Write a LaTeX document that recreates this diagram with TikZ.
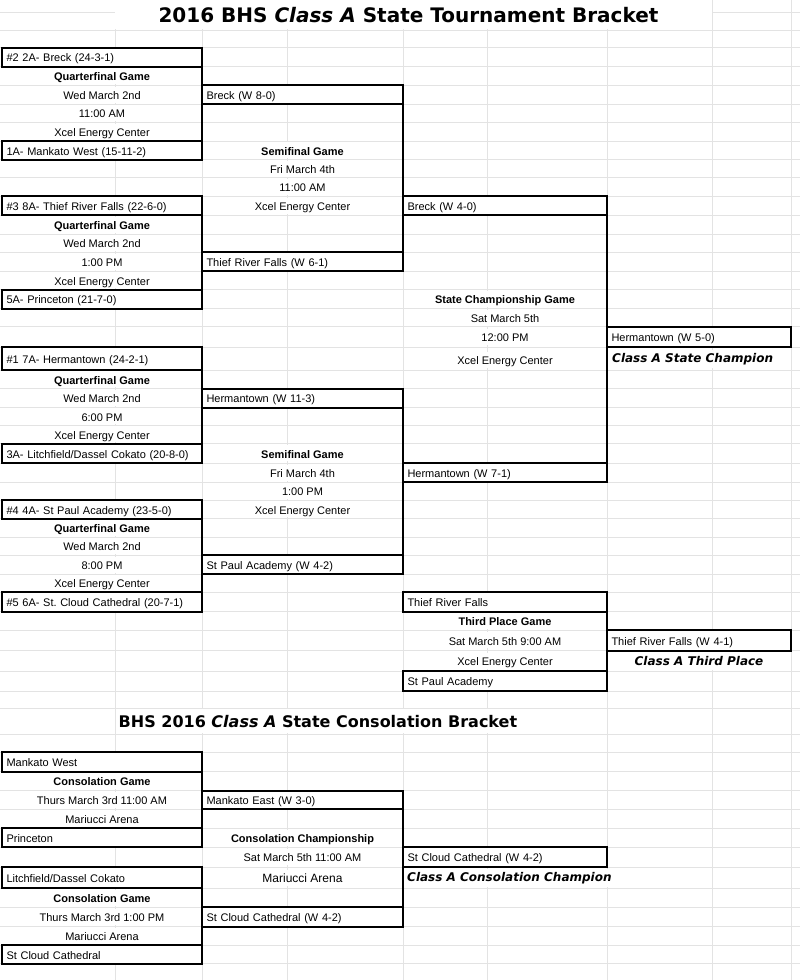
\documentclass[tikz,border=0pt]{standalone}
\usepackage{fontspec}
\setmainfont{Liberation Sans}
\newfontfamily\comicfont{DejaVu Sans}[BoldFont={DejaVu Sans Bold},ItalicFont={DejaVu Sans Oblique},BoldItalicFont={DejaVu Sans Bold Oblique}]
\newcommand\cellfont{\fontsize{11}{13}\selectfont}
\frenchspacing
\definecolor{gridgray}{HTML}{E3E3E3}
\tikzset{
  gridline/.style={draw=gridgray, line width=0.8pt},
  cell/.style={font=\cellfont, inner sep=0pt, outer sep=0pt, text height=9.5pt, text depth=0pt},
  box/.style={cell, draw=black, line width=2pt, fill=white, anchor=north west,
    inner xsep=4.5pt, minimum height=19, align=left},
  seedbox/.style={box, minimum width=200, text width=191},
  winbox/.style={box, minimum width=201, text width=192},
  semibox/.style={box, minimum width=204, text width=195},
  champbox/.style={box, minimum width=184, text width=175},
  info/.style={cell, fill=white, minimum height=16},
  infoab/.style={info, minimum width=199},
  infocd/.style={info, minimum width=200},
  infoef/.style={info, minimum width=203},
  game/.style={font=\cellfont\bfseries},
  headline/.style={font=\comicfont\bfseries\fontsize{20}{24}\selectfont, inner sep=0pt},
  subhead/.style={font=\comicfont\bfseries\fontsize{16}{19}\selectfont, fill=white,
    inner xsep=3pt, inner ysep=0pt, minimum height=24, anchor=west},
  tag/.style={font=\comicfont\bfseries\itshape\fontsize{12}{14}\selectfont, fill=white,
    inner xsep=3pt, inner ysep=0pt, minimum height=18},
  bracket/.style={line width=2pt},
}
\begin{document}
\begin{tikzpicture}[x=1pt,y=-1pt]
\fill[white] (0,0) rectangle (800,980);
\useasboundingbox (0,0) rectangle (800,980);
% sheet grid
\foreach \y in {12.7,30,47.5,66.5,85,104,122,141,159.5,177.5,196,215,234,252,271,
    289.5,308.5,326.5,347,370,388.5,407.5,425,443.5,463,482,500,518.5,537,555,574,
    592,611.5,630,650.5,671,691,708.5,734,752,771.5,790.5,809,828,847,867,888,907,
    926.5,945,963.5}
  \draw[gridline] (0,\y) -- (800,\y);
\foreach \x in {115,202,287,403,487,607,712,791}
  \draw[gridline] (\x,0) -- (\x,980);

% title
\node[headline, fill=white, minimum width=597, minimum height=29.4] (title) at (413.5,14.7)
  {\hspace*{-10pt}2016 BHS {\itshape Class A} State Tournament Bracket};

% quarterfinals
\node[seedbox] (qf1a) at (2,47.5) {\#2 2A- Breck (24-3-1)};
\node[infoab, game] (qf1g) at (102,75.75) {Quarterfinal Game};
\node[infoab] (qf1d) at (102,94.5) {Wed March 2nd};
\node[infoab] (qf1t) at (102,113) {11:00 AM};
\node[infoab] (qf1v) at (102,131.5) {Xcel Energy Center};
\node[seedbox, minimum height=18.5] (qf1b) at (2,141) {1A- Mankato West (15-11-2)};

\node[seedbox] (qf2a) at (2,196) {\#3 8A- Thief River Falls (22-6-0)};
\node[infoab, game] (qf2g) at (102,224.5) {Quarterfinal Game};
\node[infoab] (qf2d) at (102,243) {Wed March 2nd};
\node[infoab] (qf2t) at (102,261.5) {1:00 PM};
\node[infoab] (qf2v) at (102,280.25) {Xcel Energy Center};
\node[seedbox] (qf2b) at (2,289.5) {5A- Princeton (21-7-0)};

\node[seedbox, minimum height=23] (qf3a) at (2,347) {\#1 7A- Hermantown (24-2-1)};
\node[infoab, game] (qf3g) at (102,379.25) {Quarterfinal Game};
\node[infoab] (qf3d) at (102,398) {Wed March 2nd};
\node[infoab] (qf3t) at (102,416.25) {6:00 PM};
\node[infoab] (qf3v) at (102,434.25) {Xcel Energy Center};
\node[seedbox, minimum height=19.5] (qf3b) at (2,443.5) {3A- Litchfield/Dassel Cokato (20-8-0)};

\node[seedbox, minimum height=18.5] (qf4a) at (2,500) {\#4 4A- St Paul Academy (23-5-0)};
\node[infoab, game] (qf4g) at (102,527.75) {Quarterfinal Game};
\node[infoab] (qf4d) at (102,546) {Wed March 2nd};
\node[infoab] (qf4t) at (102,564.5) {8:00 PM};
\node[infoab] (qf4v) at (102,583) {Xcel Energy Center};
\node[seedbox, minimum height=19.5] (qf4b) at (2,592) {\#5 6A- St. Cloud Cathedral (20-7-1)};

% semifinals
\node[winbox] (qw1) at (202,85) {Breck (W 8-0)};
\node[infocd, game] (sf1g) at (302.5,150.25) {Semifinal Game};
\node[infocd] (sf1d) at (302.5,168.5) {Fri March 4th};
\node[infocd] (sf1t) at (302.5,186.75) {11:00 AM};
\node[infocd] (sf1v) at (302.5,205.5) {Xcel Energy Center};
\node[winbox] (qw2) at (202,252) {Thief River Falls (W 6-1)};

\node[winbox] (qw3) at (202,388.5) {Hermantown (W 11-3)};
\node[infocd, game] (sf2g) at (302.5,453.25) {Semifinal Game};
\node[infocd] (sf2d) at (302.5,472.5) {Fri March 4th};
\node[infocd] (sf2t) at (302.5,491) {1:00 PM};
\node[infocd] (sf2v) at (302.5,509.25) {Xcel Energy Center};
\node[winbox] (qw4) at (202,555) {St Paul Academy (W 4-2)};

% championship
\node[semibox] (sw1) at (403,196) {Breck (W 4-0)};
\node[infoef, game] (fg) at (505,299) {State Championship Game};
\node[infoef] (fd) at (505,317.5) {Sat March 5th};
\node[infoef] (ft) at (505,336.75) {12:00 PM};
\node[infoef] (fv) at (505,360) {Xcel Energy Center};
\node[semibox] (sw2) at (403,463) {Hermantown (W 7-1)};
\node[champbox, minimum height=20.5] (champ) at (607,326.5) {Hermantown (W 5-0)};
\node[tag, anchor=west] (champtag) at (609,359) {Class A State Champion};

% third place
\node[semibox, minimum height=19.5] (tp1) at (403,592) {Thief River Falls};
\node[infoef, game] (tpg) at (505,620.75) {Third Place Game};
\node[infoef] (tpd) at (505,640.25) {Sat March 5th 9:00 AM};
\node[infoef] (tpv) at (505,660.75) {Xcel Energy Center};
\node[semibox, minimum height=20] (tp2) at (403,671) {St Paul Academy};
\node[champbox, minimum height=20.5] (third) at (607,630) {Thief River Falls (W 4-1)};
\node[tag] (thirdtag) at (699,661) {Class A Third Place};

% consolation bracket
\node[subhead] (contitle) at (115.5,721.25) {BHS 2016 {\itshape Class A} State Consolation Bracket};

\node[seedbox, minimum height=19.5] (cs1a) at (2,752) {Mankato West};
\node[infoab, game] (cs1g) at (102,781) {Consolation Game};
\node[infoab] (cs1d) at (102,799.75) {Thurs March 3rd 11:00 AM};
\node[infoab] (cs1v) at (102,818.5) {Mariucci Arena};
\node[seedbox] (cs1b) at (2,828) {Princeton};

\node[seedbox, minimum height=21] (cs2a) at (2,867) {Litchfield/Dassel Cokato};
\node[infoab, game] (cs2g) at (102,897.5) {Consolation Game};
\node[infoab] (cs2d) at (102,916.75) {Thurs March 3rd 1:00 PM};
\node[infoab] (cs2v) at (102,935.75) {Mariucci Arena};
\node[seedbox, minimum height=18.5] (cs2b) at (2,945) {St Cloud Cathedral};

\node[winbox, minimum height=18.5] (cw1) at (202,790.5) {Mankato East (W 3-0)};
\node[infocd, game] (ccg) at (302.5,837.5) {Consolation Championship};
\node[infocd] (ccd) at (302.5,857) {Sat March 5th 11:00 AM};
\node[infocd, font=\fontsize{12}{14}\selectfont] (ccv) at (302.5,877.5) {Mariucci Arena};
\node[winbox, minimum height=19.5] (cw2) at (202,907) {St Cloud Cathedral (W 4-2)};
\node[semibox, minimum height=20] (conchamp) at (403,847) {St Cloud Cathedral (W 4-2)};
\node[tag, anchor=west] (contag) at (404,878) {Class A Consolation Champion};

% bracket lines
\draw[bracket] (qf1a.south east) -- (qf1b.north east);
\draw[bracket] (qf2a.south east) -- (qf2b.north east);
\draw[bracket] (qf3a.south east) -- (qf3b.north east);
\draw[bracket] (qf4a.south east) -- (qf4b.north east);
\draw[bracket] (qw1.south east) -- (qw2.north east);
\draw[bracket] (qw3.south east) -- (qw4.north east);
\draw[bracket] (sw1.south east) -- (sw2.north east);
\draw[bracket] (tp1.south east) -- (tp2.north east);
\draw[bracket] (cs1a.south east) -- (cs1b.north east);
\draw[bracket] (cs2a.south east) -- (cs2b.north east);
\draw[bracket] (cw1.south east) -- (cw2.north east);
\end{tikzpicture}
\end{document}
